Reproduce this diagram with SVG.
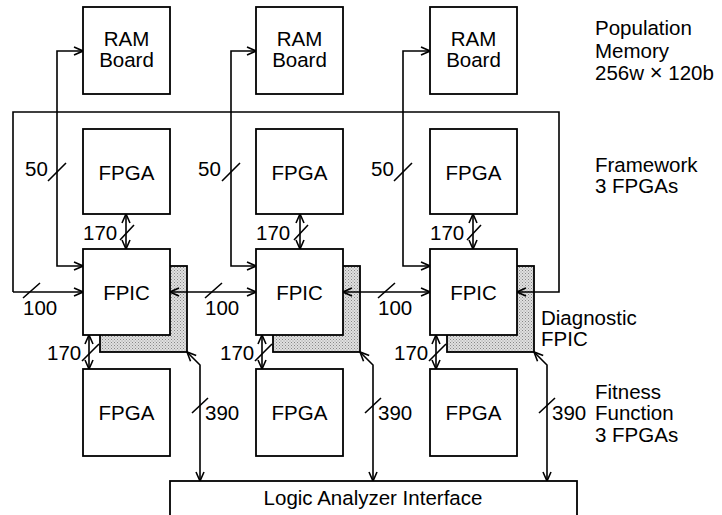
<svg xmlns="http://www.w3.org/2000/svg" width="722" height="515" viewBox="0 0 722 515">
<defs>
<pattern id="dots" width="3" height="3" patternUnits="userSpaceOnUse">
<rect width="3" height="3" fill="#e0e0e0"/>
<rect x="0" y="0" width="1" height="1" fill="#888"/>
<rect x="1.5" y="1.5" width="1" height="1" fill="#999"/>
</pattern>
<marker id="ah" viewBox="0 0 10 10" refX="10" refY="5" markerWidth="10" markerHeight="10" markerUnits="userSpaceOnUse" orient="auto-start-reverse">
<path d="M1,1 L10,5 L1,9" fill="none" stroke="#000" stroke-width="1.6"/>
</marker>
</defs>
<style>
.box{fill:#fff;stroke:#000;stroke-width:1.8}
.shadow{fill:url(#dots);stroke:#000;stroke-width:1.8}
.ln{fill:none;stroke:#000;stroke-width:1.6}
.sl{fill:none;stroke:#000;stroke-width:1.6}
text{font-family:"Liberation Sans",Arial,Helvetica,sans-serif;font-size:20.5px;fill:#000}
.c{text-anchor:middle}
.x{font-size:22px}
</style>
<rect width="722" height="515" fill="#fff"/>

<g id="ram1"><rect class="box" x="83" y="7" width="87" height="87"/><text class="c" x="126.5" y="46">RAM<tspan x="126.5" y="67">Board</tspan></text></g>
<g id="ram2"><rect class="box" x="256" y="7" width="87" height="87"/><text class="c" x="299.5" y="46">RAM<tspan x="299.5" y="67">Board</tspan></text></g>
<g id="ram3"><rect class="box" x="430" y="7" width="87" height="87"/><text class="c" x="473.5" y="46">RAM<tspan x="473.5" y="67">Board</tspan></text></g>

<g id="fpgaTop1"><rect class="box" x="83" y="129" width="87" height="85"/><text class="c" x="126.5" y="180">FPGA</text></g>
<g id="fpgaTop2"><rect class="box" x="256" y="129" width="87" height="85"/><text class="c" x="299.5" y="180">FPGA</text></g>
<g id="fpgaTop3"><rect class="box" x="430" y="129" width="87" height="85"/><text class="c" x="473.5" y="180">FPGA</text></g>

<g id="diag1"><rect class="shadow" x="100" y="266" width="87" height="86"/></g>
<g id="diag2"><rect class="shadow" x="273" y="266" width="87" height="86"/></g>
<g id="diag3"><rect class="shadow" x="447" y="266" width="87" height="86"/></g>

<g id="fpic1"><rect class="box" x="83" y="249" width="87" height="86"/><text class="c" x="126.5" y="300">FPIC</text></g>
<g id="fpic2"><rect class="box" x="256" y="249" width="87" height="86"/><text class="c" x="299.5" y="300">FPIC</text></g>
<g id="fpic3"><rect class="box" x="430" y="249" width="87" height="86"/><text class="c" x="473.5" y="300">FPIC</text></g>

<g id="fpgaBot1"><rect class="box" x="83" y="369" width="87" height="87"/><text class="c" x="126.5" y="420">FPGA</text></g>
<g id="fpgaBot2"><rect class="box" x="256" y="369" width="87" height="87"/><text class="c" x="299.5" y="420">FPGA</text></g>
<g id="fpgaBot3"><rect class="box" x="430" y="369" width="87" height="87"/><text class="c" x="473.5" y="420">FPGA</text></g>

<g id="lai"><rect class="box" x="170" y="481" width="407" height="60"/><text class="c" x="373" y="505">Logic Analyzer Interface</text></g>

<g id="connectors">
<path class="ln" d="M13,292 L13,112 L559,112 L559,292 L517,292" marker-end="url(#ah)"/>
<path class="ln" d="M13,292 L83,292" marker-end="url(#ah)"/>
<path class="ln" d="M83,266 L57,266 L57,51 L83,51" marker-start="url(#ah)" marker-end="url(#ah)"/>
<path class="ln" d="M256,266 L231,266 L231,51 L256,51" marker-start="url(#ah)" marker-end="url(#ah)"/>
<path class="ln" d="M430,266 L403,266 L403,51 L430,51" marker-start="url(#ah)" marker-end="url(#ah)"/>
<path class="ln" d="M170,292 L256,292" marker-start="url(#ah)" marker-end="url(#ah)"/>
<path class="ln" d="M343,292 L430,292" marker-start="url(#ah)" marker-end="url(#ah)"/>
<path class="ln" d="M126,214 L126,249" marker-start="url(#ah)" marker-end="url(#ah)"/>
<path class="ln" d="M300,214 L300,249" marker-start="url(#ah)" marker-end="url(#ah)"/>
<path class="ln" d="M473,214 L473,249" marker-start="url(#ah)" marker-end="url(#ah)"/>
<path class="ln" d="M89,335 L89,369" marker-start="url(#ah)" marker-end="url(#ah)"/>
<path class="ln" d="M262,335 L262,369" marker-start="url(#ah)" marker-end="url(#ah)"/>
<path class="ln" d="M436,335 L436,369" marker-start="url(#ah)" marker-end="url(#ah)"/>
<path class="ln" d="M187,352 L200,365 L200,481" marker-start="url(#ah)" marker-end="url(#ah)"/>
<path class="ln" d="M360,352 L373,365 L373,481" marker-start="url(#ah)" marker-end="url(#ah)"/>
<path class="ln" d="M534,352 L547,365 L547,481" marker-start="url(#ah)" marker-end="url(#ah)"/>
<path class="sl" d="M48,181 L66,163 M222,181 L240,163 M394,181 L412,163"/>
<path class="sl" d="M23,298 L40,283 M205,298 L222,283 M378,298 L395,283"/>
<path class="sl" d="M120,240 L134,225 M294,240 L308,225 M467,240 L481,225"/>
<path class="sl" d="M82,361 L99,344 M255,361 L272,344 M429,361 L446,344"/>
<path class="sl" d="M192,413 L208,398 M365,413 L381,398 M539,413 L555,398"/>
</g>

<g id="labels">
<text x="25" y="176">50</text><text x="198" y="176">50</text><text x="371" y="176">50</text>
<text x="23" y="315">100</text><text x="205" y="315">100</text><text x="378" y="315">100</text>
<text x="83" y="240">170</text><text x="256" y="240">170</text><text x="430" y="240">170</text>
<text x="47" y="360">170</text><text x="220" y="360">170</text><text x="394" y="360">170</text>
<text x="205" y="420">390</text><text x="378" y="420">390</text><text x="552" y="420">390</text>
<text x="595" y="35">Population</text>
<text x="595" y="58">Memory</text>
<text x="595" y="80">256w <tspan class="x">×</tspan> 120b</text>
<text x="595" y="172">Framework<tspan x="595" y="193">3 FPGAs</tspan></text>
<text x="541" y="325">Diagnostic<tspan x="541" y="346">FPIC</tspan></text>
<text x="595" y="399">Fitness<tspan x="595" y="420">Function</tspan><tspan x="595" y="442">3 FPGAs</tspan></text>
</g>
</svg>
